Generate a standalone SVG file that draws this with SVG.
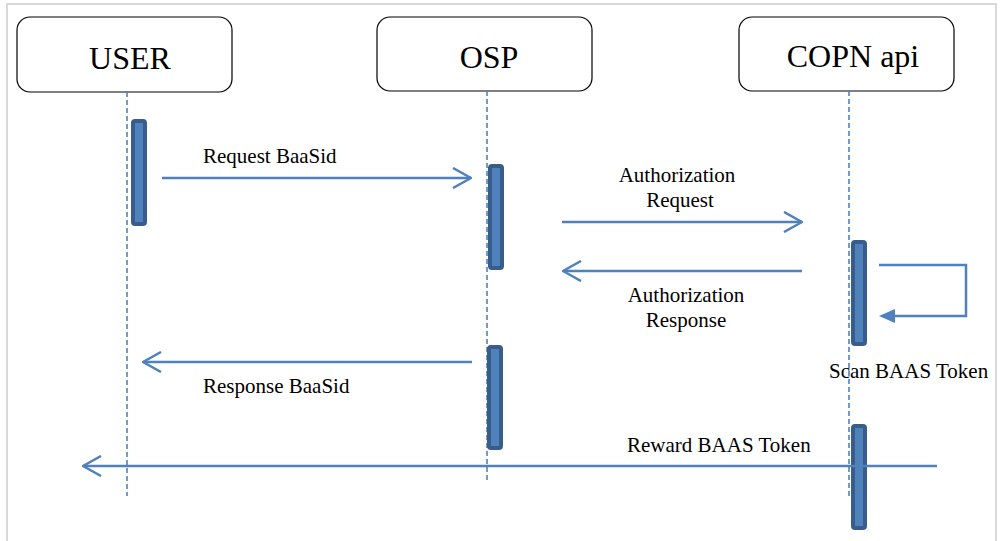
<svg xmlns="http://www.w3.org/2000/svg" width="1001" height="541" viewBox="0 0 1001 541">
<defs>
<style>
.frame{fill:none;stroke:#d9d9d9;stroke-width:2}
.box{fill:#fff;stroke:#000;stroke-width:1.2}
.head{font-family:"Liberation Serif",serif;font-size:32px;fill:#000;text-anchor:middle}
.lbl{font-family:"Liberation Serif",serif;font-size:21px;fill:#000}
.life{stroke:#4f81bd;stroke-width:1.6;stroke-dasharray:5 3;fill:none}
.act{fill:#4f81bd;stroke:#385d8a;stroke-width:4}
.msg{stroke:#4f81bd;stroke-width:2.5;fill:none}
</style>
<marker id="open" viewBox="0 0 20 22" refX="19" refY="11" markerWidth="20" markerHeight="22" markerUnits="userSpaceOnUse" orient="auto">
<path d="M1,1 L19,11 L1,21" fill="none" stroke="#4f81bd" stroke-width="2.5"/>
</marker>
<marker id="solid" viewBox="0 0 16 16" refX="0" refY="8" markerWidth="16" markerHeight="16" markerUnits="userSpaceOnUse" orient="auto">
<path d="M0,8 L16,1 L16,15 Z" fill="#4f81bd"/>
</marker>
</defs>
<rect class="frame" x="7" y="4" width="989" height="560"/>
<g id="user">
<rect class="box" x="17" y="17" width="215" height="75" rx="13"/>
<text class="head" x="130" y="69">USER</text>
<line class="life" x1="127" y1="92" x2="127" y2="496"/>
<rect class="act" x="133" y="121" width="12" height="103" rx="2"/>
</g>
<g id="osp">
<rect class="box" x="377" y="17" width="215" height="74" rx="13"/>
<text class="head" x="489" y="68">OSP</text>
<line class="life" x1="487" y1="91" x2="487" y2="482"/>
<rect class="act" x="490" y="166" width="12" height="102" rx="2"/>
<rect class="act" x="489" y="347" width="12" height="101" rx="2"/>
</g>
<g id="copn">
<rect class="box" x="739" y="17" width="215" height="74" rx="13"/>
<text class="head" x="853" y="67">COPN api</text>
<line class="life" x1="849" y1="91" x2="849" y2="496"/>
<rect class="act" x="853" y="242" width="12" height="102" rx="2"/>
<rect class="act" x="853" y="426" width="12" height="102" rx="2"/>
</g>
<g id="connectors">
<line class="msg" x1="162" y1="178" x2="471" y2="178" marker-end="url(#open)"/>
<line class="msg" x1="562" y1="222" x2="802" y2="222" marker-end="url(#open)"/>
<line class="msg" x1="802" y1="271" x2="563" y2="271" marker-end="url(#open)"/>
<path class="msg" d="M879,265 H966 V316 H895" stroke-width="2"/>
<path d="M879,316 L895,309 L895,323 Z" fill="#4f81bd"/>
<line class="msg" x1="472" y1="362" x2="143" y2="362" marker-end="url(#open)"/>
<line class="msg" x1="937" y1="466" x2="83" y2="466" marker-end="url(#open)"/>
</g>
<g id="labels">
<text class="lbl" x="203" y="163">Request BaaSid</text>
<text class="lbl" x="677" y="182" text-anchor="middle">Authorization</text>
<text class="lbl" x="680" y="207" text-anchor="middle">Request</text>
<text class="lbl" x="686" y="302" text-anchor="middle">Authorization</text>
<text class="lbl" x="686" y="327" text-anchor="middle">Response</text>
<text class="lbl" x="829" y="378">Scan BAAS Token</text>
<text class="lbl" x="203" y="393">Response BaaSid</text>
<text class="lbl" x="627" y="452">Reward BAAS Token</text>
</g>
</svg>
